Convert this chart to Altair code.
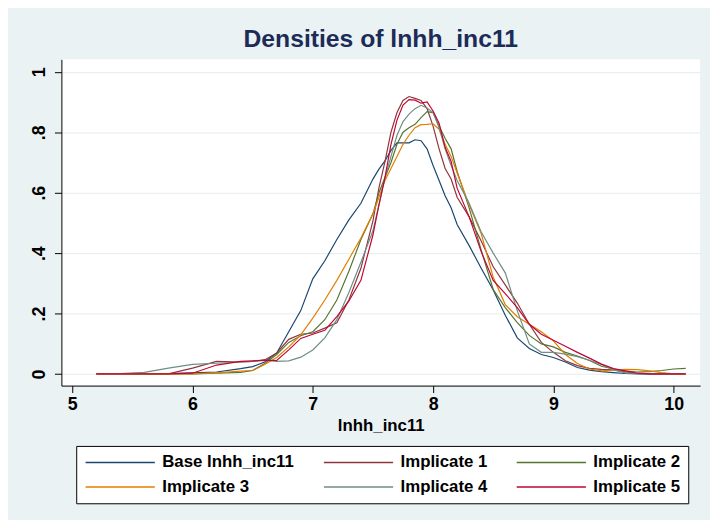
import altair as alt
import pandas as pd

# ---- data ----
x_vals = [5.2, 5.4, 5.6, 5.8, 6.0, 6.2, 6.4, 6.5, 6.6, 6.7, 6.8, 6.9, 7.0, 7.1, 7.2, 7.3, 7.4,
          7.5, 7.55, 7.6, 7.65, 7.7, 7.75, 7.8, 7.85, 7.9, 7.95, 8.0, 8.05, 8.1, 8.15, 8.2,
          8.3, 8.4, 8.5, 8.6, 8.7, 8.8, 8.9, 9.0, 9.1, 9.2, 9.3, 9.4, 9.5, 9.6, 9.7, 9.8,
          9.9, 10.0, 10.1]

base = [0.002, 0.002, 0.002, 0.002, 0.004, 0.007, 0.018, 0.025, 0.04, 0.07, 0.14, 0.21, 0.315,
        0.375, 0.445, 0.51, 0.565, 0.645, 0.678, 0.705, 0.74, 0.765, 0.765, 0.765, 0.775, 0.772,
        0.745, 0.69, 0.64, 0.59, 0.55, 0.495, 0.425, 0.35, 0.278, 0.195, 0.12, 0.085, 0.065,
        0.055, 0.04, 0.022, 0.013, 0.008, 0.005, 0.002, 0.001, 0.001, 0.001, 0.001, 0.001]

imp1 = [0.001, 0.001, 0.001, 0.001, 0.02, 0.042, 0.04, 0.042, 0.047, 0.07, 0.115, 0.132, 0.136,
        0.152, 0.17, 0.245, 0.35, 0.507, 0.616, 0.703, 0.8, 0.865, 0.905, 0.918, 0.912, 0.905,
        0.878, 0.82, 0.745, 0.68, 0.645, 0.585, 0.52, 0.44, 0.355, 0.295, 0.235, 0.165, 0.105,
        0.072, 0.044, 0.028, 0.019, 0.016, 0.014, 0.007, 0.002, 0.001, 0.001, 0.001, 0.001]

imp2 = [0.001, 0.001, 0.001, 0.001, 0.001, 0.003, 0.006, 0.012, 0.035, 0.065, 0.105, 0.127, 0.14,
        0.18, 0.245, 0.34, 0.445, 0.53, 0.6, 0.65, 0.7, 0.76, 0.8, 0.815, 0.826, 0.848, 0.868,
        0.865, 0.82, 0.78, 0.745, 0.67, 0.55, 0.41, 0.28, 0.22, 0.17, 0.128, 0.1, 0.09, 0.072,
        0.06, 0.045, 0.026, 0.017, 0.01, 0.007, 0.008, 0.012, 0.017, 0.019]

imp3 = [0.001, 0.001, 0.001, 0.001, 0.001, 0.004, 0.01, 0.012, 0.032, 0.055, 0.09, 0.13, 0.185,
        0.245, 0.31, 0.38, 0.45, 0.53, 0.585, 0.64, 0.68, 0.72, 0.76, 0.79, 0.815, 0.825, 0.826,
        0.828, 0.81, 0.76, 0.72, 0.665, 0.56, 0.465, 0.32, 0.23, 0.19, 0.165, 0.14, 0.11, 0.065,
        0.035, 0.017, 0.011, 0.013, 0.016, 0.015, 0.011, 0.005, 0.001, 0.001]

imp4 = [0.002, 0.002, 0.006, 0.02, 0.032, 0.036, 0.04, 0.042, 0.045, 0.042, 0.044, 0.056, 0.08,
        0.12, 0.18, 0.27, 0.37, 0.474, 0.56, 0.65, 0.72, 0.79, 0.835, 0.86, 0.878, 0.889, 0.88,
        0.865, 0.815, 0.745, 0.69, 0.64, 0.565, 0.47, 0.4, 0.335, 0.21, 0.1, 0.072, 0.072, 0.066,
        0.058, 0.046, 0.032, 0.014, 0.004, 0.002, 0.002, 0.002, 0.002, 0.002]

imp5 = [0.001, 0.001, 0.001, 0.001, 0.003, 0.03, 0.042, 0.044, 0.046, 0.045, 0.08, 0.118, 0.132,
        0.145, 0.19, 0.242, 0.31, 0.46, 0.56, 0.65, 0.76, 0.84, 0.89, 0.908, 0.906, 0.896, 0.9,
        0.87, 0.83, 0.75, 0.703, 0.615, 0.52, 0.405, 0.31, 0.266, 0.22, 0.165, 0.132, 0.112,
        0.092, 0.072, 0.053, 0.033, 0.018, 0.011, 0.003, 0.001, 0.001, 0.001, 0.001]

series_names = ["Base lnhh_inc11", "Implicate 1", "Implicate 2",
                "Implicate 3", "Implicate 4", "Implicate 5"]
series_values = [base, imp1, imp2, imp3, imp4, imp5]
series_colors = ["#1a476f", "#90353b", "#55752f", "#e37e00", "#6e8e84", "#c10534"]

x_ticks = [5, 6, 7, 8, 9, 10]
y_ticks = [0, 0.2, 0.4, 0.6, 0.8, 1.0]

rows = []
for name, ys in zip(series_names, series_values):
    for x, y in zip(x_vals, ys):
        rows.append({"series": name, "x": x, "density": y})
df = pd.DataFrame(rows)

FONT = "Liberation Sans, Arial, sans-serif"

chart = alt.Chart(df).mark_line(strokeWidth=1.2, clip=True).encode(
    x=alt.X("x:Q",
            scale=alt.Scale(domain=[4.91, 10.22], nice=False, zero=False),
            axis=alt.Axis(values=x_ticks, format="d", title="lnhh_inc11", grid=False,
                          tickSize=7, labelPadding=3, titlePadding=4,
                          labelFontSize=18, titleFontSize=17)),
    y=alt.Y("density:Q",
            scale=alt.Scale(domain=[-0.038, 1.041], nice=False, zero=False),
            axis=alt.Axis(values=y_ticks, title=None, grid=True,
                          labelExpr="datum.value == 0 ? '0' : (datum.value == 1 ? '1' : replace(format(datum.value, '.1f'), '0.', '.'))",
                          labelAngle=270, labelAlign="center", labelBaseline="alphabetic",
                          tickSize=7, labelPadding=10, labelFontSize=18)),
    color=alt.Color("series:N",
                    scale=alt.Scale(domain=series_names, range=series_colors),
                    legend=alt.Legend(title=None, orient="none", legendX=15, legendY=391,
                                      columns=3, direction="horizontal",
                                      symbolType="M-1,0H9", symbolSize=196,
                                      symbolStrokeWidth=1.5, labelOffset=62,
                                      columnPadding=26, rowPadding=7)),
).properties(
    width=646, height=330,
    autosize=alt.AutoSizeParams(type="none"),
    padding={"left": 54, "top": 49, "right": 10, "bottom": 133},
    title=alt.TitleParams("Densities of lnhh_inc11", font=FONT, fontSize=25,
                          fontWeight="bold", color="#1c2b57", anchor="middle", offset=7),
    background="#eaf2f3",
).configure_view(
    stroke=None, fill="white"
).configure_axis(
    domainColor="black", tickColor="black", domainWidth=1, tickWidth=1,
    labelFont=FONT, labelFontWeight="bold", labelColor="black",
    titleFont=FONT, titleFontWeight="bold", titleColor="black",
    gridColor="#e4ecee", gridWidth=1,
).configure_legend(
    strokeColor="black", fillColor="white", padding=8, cornerRadius=0,
    labelFont=FONT, labelFontSize=17, labelFontWeight="bold", labelColor="black",
)

chart.save("out.html", embed_options={"renderer": "svg", "actions": False})
